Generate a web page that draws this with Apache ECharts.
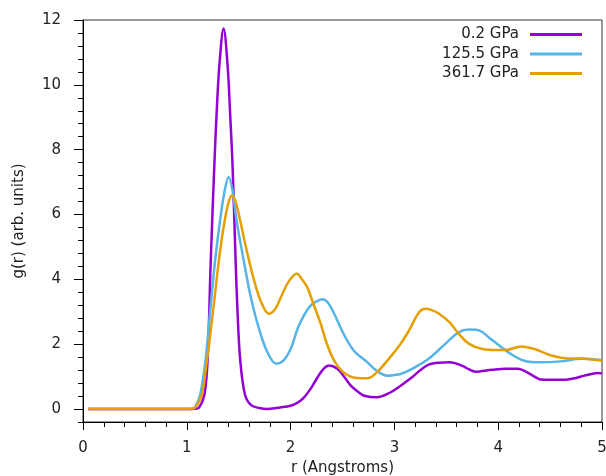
<!DOCTYPE html>
<html>
<head>
<meta charset="utf-8">
<script src="https://cdn.jsdelivr.net/npm/echarts@6/dist/echarts.min.js"></script>
<style>
  html, body { margin: 0; padding: 0; background: #fff; }
  #chart { width: 606px; height: 476px; }
</style>
</head>
<body>
<div id="chart"></div>
<script>
// series names (legend)
const seriesNames = ['0.2 GPa', '125.5 GPa', '361.7 GPa']

// 0.2 GPa
const rLow = [0.05, 0.5, 1.0, 1.08, 1.12, 1.17, 1.20, 1.23, 1.265, 1.29, 1.316, 1.354, 1.393, 1.419, 1.441, 1.47, 1.49, 1.515, 1.56, 1.62, 1.7, 1.77, 1.9, 2.0, 2.07, 2.13, 2.2, 2.26, 2.32, 2.37, 2.45, 2.52, 2.58, 2.65, 2.71, 2.83, 2.96, 3.06, 3.17, 3.25, 3.33, 3.43, 3.53, 3.65, 3.72, 3.78, 3.86, 3.94, 4.07, 4.19, 4.28, 4.35, 4.41, 4.55, 4.67, 4.75, 4.83, 4.96, 5.0]
const gLow = [0, 0, 0, 0.01, 0.05, 0.45, 1.5, 4.5, 7.5, 9.3, 10.7, 11.74, 10.6, 9.0, 7.5, 4.6, 2.9, 1.5, 0.45, 0.12, 0.03, 0.0, 0.05, 0.1, 0.2, 0.36, 0.66, 0.98, 1.25, 1.34, 1.24, 0.98, 0.72, 0.53, 0.41, 0.36, 0.51, 0.72, 0.98, 1.2, 1.37, 1.43, 1.44, 1.34, 1.22, 1.15, 1.18, 1.21, 1.24, 1.24, 1.13, 1.0, 0.91, 0.9, 0.91, 0.96, 1.03, 1.11, 1.1]

// 125.5 GPa
const rMid = [0.05, 0.5, 1.0, 1.05, 1.08, 1.13, 1.18, 1.226, 1.27, 1.32, 1.36, 1.403, 1.44, 1.48, 1.55, 1.61, 1.68, 1.77, 1.863, 1.93, 2.0, 2.07, 2.13, 2.19, 2.25, 2.31, 2.36, 2.42, 2.51, 2.61, 2.74, 2.83, 2.93, 3.0, 3.06, 3.17, 3.33, 3.49, 3.62, 3.72, 3.82, 3.91, 4.01, 4.12, 4.25, 4.41, 4.6, 4.8, 5.0]
const gMid = [0, 0, 0, 0.01, 0.05, 0.46, 1.49, 3.04, 4.5, 5.8, 6.65, 7.16, 6.75, 5.8, 4.55, 3.55, 2.65, 1.8, 1.4, 1.49, 1.85, 2.5, 2.9, 3.18, 3.32, 3.39, 3.28, 2.94, 2.32, 1.8, 1.44, 1.18, 1.03, 1.05, 1.08, 1.24, 1.55, 2.01, 2.37, 2.45, 2.42, 2.21, 1.96, 1.7, 1.49, 1.44, 1.47, 1.55, 1.51]

// 361.7 GPa
const rHigh = [0.05, 0.5, 1.0, 1.05, 1.09, 1.146, 1.19, 1.23, 1.27, 1.306, 1.354, 1.40, 1.435, 1.47, 1.515, 1.58, 1.64, 1.71, 1.79, 1.85, 1.90, 1.95, 2.0, 2.06, 2.11, 2.16, 2.22, 2.29, 2.35, 2.42, 2.51, 2.64, 2.74, 2.83, 2.96, 3.06, 3.14, 3.24, 3.30, 3.36, 3.43, 3.53, 3.62, 3.72, 3.85, 3.98, 4.07, 4.22, 4.35, 4.51, 4.67, 4.83, 5.0]
const gHigh = [0, 0, 0, 0.01, 0.08, 0.46, 1.4, 2.4, 3.5, 4.5, 5.6, 6.35, 6.59, 6.4, 5.8, 4.85, 4.07, 3.35, 2.94, 3.08, 3.4, 3.75, 4.02, 4.17, 4.0, 3.76, 3.24, 2.63, 2.01, 1.49, 1.13, 0.96, 0.95, 1.13, 1.6, 2.01, 2.42, 2.99, 3.09, 3.05, 2.94, 2.68, 2.32, 2.01, 1.85, 1.82, 1.82, 1.93, 1.85, 1.65, 1.56, 1.55, 1.49]

// axis ticks
const xTicks = [0, 1, 2, 3, 4, 5]
const yTicks = [0, 2, 4, 6, 8, 10, 12]

const pairs = (r, g) => r.map((x, i) => [x, g[i]])

const textColor = '#222'
const font = 'DejaVu Sans'

const chart = echarts.init(document.getElementById('chart'), null, { renderer: 'canvas' })

const makeLine = (name, r, g, color) => ({
  name,
  type: 'line',
  data: pairs(r, g),
  smooth: 0.35,
  showSymbol: false,
  symbol: 'none',
  lineStyle: { color, width: 2.5 },
  itemStyle: { color },
  xAxisIndex: 0,
  yAxisIndex: 0
})

chart.setOption({
  animation: false,
  backgroundColor: '#fff',
  textStyle: { fontFamily: font },
  grid: {
    left: 83, right: 4, top: 20, bottom: 54,
    outerBoundsMode: 'none',
    containLabel: false,
    show: true, borderColor: '#333', borderWidth: 1
  },
  legend: {
    orient: 'vertical',
    align: 'right',
    right: 19,
    top: 22,
    itemGap: 4.5,
    itemWidth: 52,
    itemHeight: 3,
    icon: 'rect',
    textStyle: { fontFamily: font, fontSize: 15, color: textColor, padding: [0, 6, 0, 0] },
    data: seriesNames
  },
  xAxis: {
    type: 'value',
    min: xTicks[0],
    max: xTicks[xTicks.length - 1],
    interval: 1,
    name: 'r (Angstroms)',
    nameLocation: 'middle',
    nameGap: 37,
    nameTextStyle: { fontFamily: font, fontSize: 15, color: textColor },
    axisLine: { show: true, onZero: false, lineStyle: { color: '#000', width: 1 } },
    axisTick: { show: true, inside: false, length: 8, lineStyle: { color: '#000' } },
    minorTick: { show: true, splitNumber: 5, length: 5, lineStyle: { color: '#000' } },
    axisLabel: { fontFamily: font, fontSize: 15, color: textColor, margin: 19 },
    splitLine: { show: false }
  },
  yAxis: [
    {
      type: 'value',
      position: 'left',
      min: -0.4,
      max: 12,
      interval: 0.4,
      axisLine: { show: true, onZero: false, lineStyle: { color: '#000', width: 1 } },
      axisTick: { show: true, length: 5, lineStyle: { color: '#000' } },
      axisLabel: { show: false },
      splitLine: { show: false }
    },
    {
      type: 'value',
      position: 'left',
      min: -0.4,
      max: 12,
      name: 'g(r) (arb. units)',
      nameLocation: 'middle',
      nameGap: 56,
      nameTextStyle: { fontFamily: font, fontSize: 15, color: textColor },
      axisLine: { show: false },
      axisTick: { show: true, length: 9, customValues: yTicks, lineStyle: { color: '#000' } },
      axisLabel: { fontFamily: font, fontSize: 15, color: textColor, margin: 22, customValues: yTicks },
      splitLine: { show: false }
    }
  ],
  series: [
    makeLine(seriesNames[0], rLow, gLow, '#9400D3'),
    makeLine(seriesNames[1], rMid, gMid, '#56B4E9'),
    makeLine(seriesNames[2], rHigh, gHigh, '#E69F00')
  ]
})
</script>
</body>
</html>
